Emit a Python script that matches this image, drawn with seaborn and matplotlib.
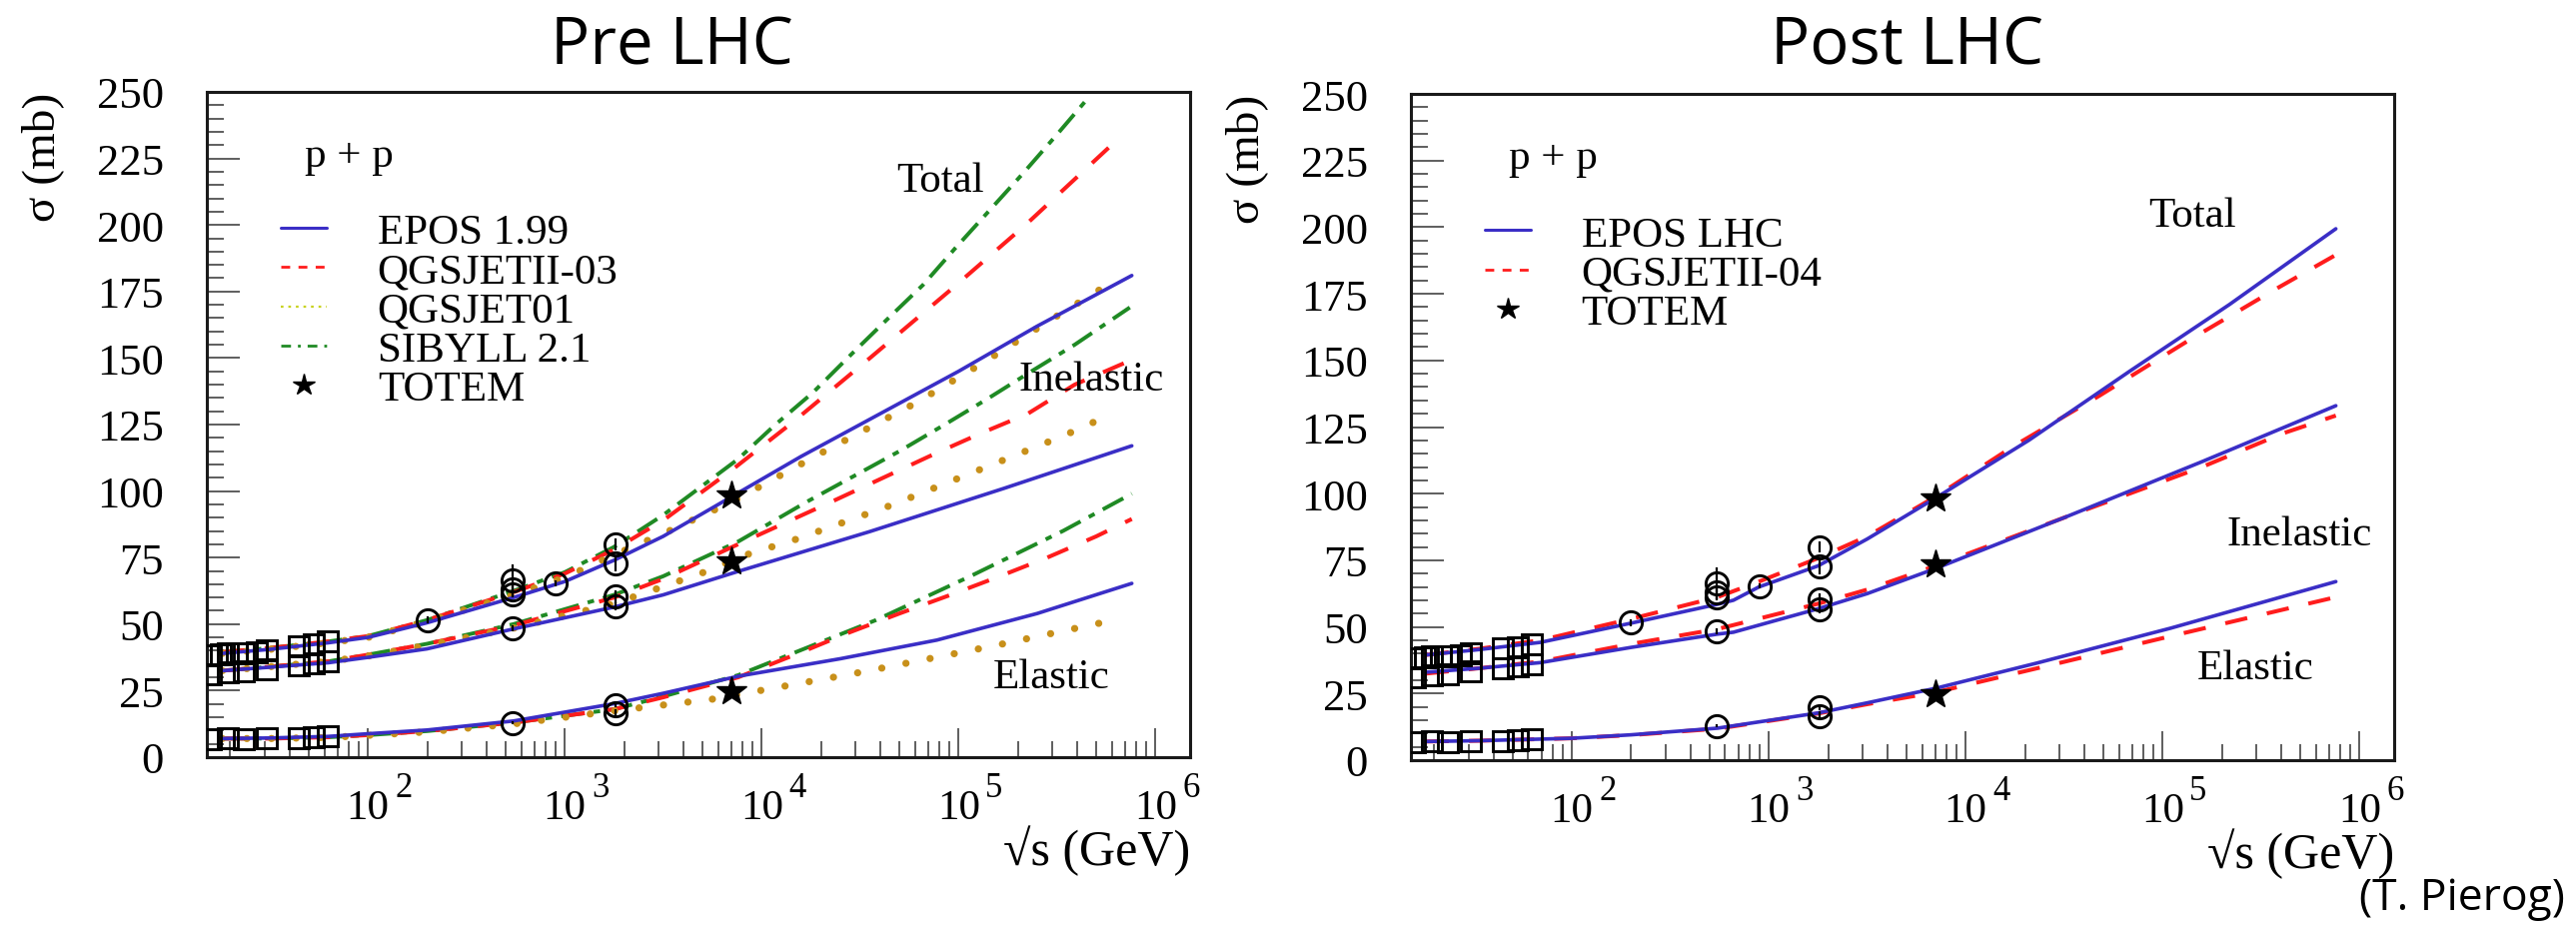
import numpy as np
import matplotlib
matplotlib.use("Agg")
import matplotlib.pyplot as plt
import matplotlib.transforms as mtransforms
from matplotlib.lines import Line2D
from matplotlib.ticker import LogLocator, MultipleLocator, NullFormatter, FixedLocator
import seaborn as sns

# ---------------------------------------------------------------- data
# model curves: log10(sqrt(s)/GeV) and cross section (mb)
# ---- Pre LHC
epos199_tot_lx = [1.26, 1.5, 1.8, 2.0, 2.3, 2.74, 3.0, 3.25, 3.5, 3.85, 4.2, 4.6, 5.0, 5.4, 5.88]
epos199_tot = [39.0, 40.5, 43.0, 45.0, 50.5, 60.0, 66.0, 74.0, 83.0, 98.0, 113.0, 129.0, 145.0, 162.0, 181.0]
qgsII03_tot_lx = [1.26, 1.5, 1.8, 2.0, 2.3, 2.74, 3.0, 3.25, 3.5, 3.85, 4.16, 4.55, 4.95, 5.34, 5.82]
qgsII03_tot = [39.5, 41.0, 43.5, 45.5, 51.5, 62.0, 69.0, 78.0, 89.0, 108.0, 126.0, 150.0, 175.0, 200.0, 233.0]
sib21_tot_lx = [1.26, 1.5, 1.8, 2.0, 2.3, 2.74, 3.0, 3.25, 3.5, 3.88, 4.07, 4.26, 4.45, 4.63, 4.82, 4.98, 5.16, 5.33, 5.5, 5.65]
sib21_tot = [39.5, 41.0, 43.5, 45.5, 51.5, 62.5, 69.5, 79.0, 91.0, 112.0, 125.0, 137.0, 151.0, 164.0, 177.5, 191.0, 205.7, 219.6, 234.0, 247.0]
qgs01_tot_lx = [1.26, 1.5, 1.8, 2.0, 2.3, 2.74, 3.0, 3.25, 3.5, 3.85, 4.32, 4.78, 5.12, 5.45, 5.79]
qgs01_tot = [39.0, 40.5, 43.0, 45.0, 51.0, 61.0, 67.5, 76.0, 84.0, 96.0, 115.0, 133.0, 148.0, 163.5, 179.0]

epos199_inel_lx = [1.26, 1.5, 1.8, 2.0, 2.3, 2.74, 3.25, 3.5, 3.88, 4.55, 5.23, 5.88]
epos199_inel = [32.5, 33.8, 35.5, 37.5, 40.7, 48.2, 56.4, 61.0, 69.8, 84.8, 101.0, 117.0]
qgsII03_inel_lx = [1.26, 1.5, 1.8, 2.0, 2.3, 2.74, 3.25, 3.5, 3.88, 4.37, 4.87, 5.11, 5.35, 5.59, 5.87]
qgsII03_inel = [32.5, 34.0, 36.0, 38.5, 42.6, 49.5, 60.0, 67.0, 80.0, 96.5, 113.7, 121.6, 129.0, 140.0, 149.0]
sib21_inel_lx = [1.26, 1.5, 1.8, 2.0, 2.3, 2.74, 3.25, 3.5, 3.88, 4.23, 4.7, 4.93, 5.15, 5.37, 5.59, 5.87]
sib21_inel = [32.5, 34.0, 36.0, 38.5, 42.6, 50.0, 61.0, 68.0, 81.0, 96.0, 115.0, 125.0, 134.8, 145.0, 155.0, 169.0]
qgs01_inel_lx = [1.26, 1.5, 1.8, 2.0, 2.3, 2.74, 3.25, 3.69, 3.92, 4.18, 4.67, 5.16, 5.54, 5.78]
qgs01_inel = [32.5, 34.0, 36.0, 38.0, 42.0, 48.5, 57.7, 69.0, 76.0, 82.0, 95.0, 109.6, 121.0, 129.0]

epos199_el_lx = [1.26, 1.5, 1.8, 2.0, 2.3, 2.74, 3.25, 3.5, 3.88, 4.4, 4.89, 5.4, 5.88]
epos199_el = [7.0, 7.2, 7.8, 8.8, 10.2, 13.6, 20.1, 24.0, 30.4, 37.0, 44.0, 54.0, 65.3]
qgsII03_el_lx = [1.26, 1.5, 1.8, 2.0, 2.3, 2.74, 3.25, 3.5, 3.88, 4.22, 4.45, 4.7, 4.96, 5.21, 5.45, 5.7, 5.88]
qgsII03_el = [7.0, 7.0, 7.5, 8.3, 9.8, 13.0, 18.0, 22.5, 30.0, 40.0, 47.0, 54.0, 61.0, 68.0, 75.0, 83.0, 89.5]
sib21_el_lx = [1.26, 1.5, 1.8, 2.0, 2.3, 2.74, 3.25, 3.5, 3.88, 4.09, 4.58, 5.06, 5.53, 5.88]
sib21_el = [7.0, 7.0, 7.5, 8.3, 9.8, 13.0, 18.0, 22.8, 30.8, 37.0, 51.5, 68.0, 85.0, 99.0]
qgs01_el_lx = [1.26, 1.5, 1.8, 2.0, 2.3, 2.74, 3.25, 3.75, 3.99, 4.51, 5.17, 5.82]
qgs01_el = [7.0, 7.0, 7.4, 8.2, 9.5, 12.5, 17.4, 21.8, 25.0, 32.0, 41.7, 52.0]

# ---- Post LHC
eposlhc_tot_lx = [1.26, 1.53, 1.84, 2.3, 2.74, 2.82, 2.95, 3.25, 3.5, 3.85, 4.32, 4.83, 5.34, 5.88]
eposlhc_tot = [39.5, 41.5, 44.2, 51.4, 58.5, 60.0, 65.0, 72.9, 83.0, 98.5, 120.0, 145.8, 171.0, 199.4]
qgsII04_tot_lx = [1.26, 1.53, 1.84, 2.3, 2.74, 2.95, 3.25, 3.5, 3.85, 4.24, 4.68, 5.13, 5.58, 5.88]
qgsII04_tot = [39.5, 41.8, 45.0, 53.0, 61.2, 67.0, 75.8, 84.0, 99.0, 117.7, 136.8, 157.4, 177.0, 189.6]
eposlhc_inel_lx = [1.26, 1.53, 1.84, 2.3, 2.74, 2.82, 3.25, 3.5, 3.85, 4.5, 5.2, 5.88]
eposlhc_inel = [33.0, 34.5, 36.6, 42.3, 47.3, 48.0, 56.8, 62.5, 72.0, 91.0, 112.0, 133.0]
qgsII04_inel_lx = [1.26, 1.53, 1.84, 2.3, 2.74, 3.25, 3.5, 3.85, 4.5, 5.2, 5.61, 5.88]
qgsII04_inel = [32.5, 34.5, 37.0, 43.6, 49.2, 58.7, 64.0, 73.0, 91.0, 110.0, 122.6, 129.3]
eposlhc_el_lx = [1.26, 1.53, 2.0, 2.3, 2.74, 3.25, 3.5, 3.85, 4.36, 5.04, 5.88]
eposlhc_el = [7.0, 7.3, 8.2, 9.5, 12.0, 17.7, 21.5, 27.0, 36.4, 49.5, 67.0]
qgsII04_el_lx = [1.26, 1.53, 2.0, 2.3, 2.74, 3.25, 3.5, 3.85, 4.45, 5.04, 5.87]
qgsII04_el = [7.0, 7.3, 8.2, 9.4, 11.8, 17.5, 21.0, 25.5, 36.0, 46.5, 61.0]

# ---- measurements (sqrt(s) in GeV, sigma in mb)
sq_tot_energy = [16.0, 18.0, 19.4, 21.7, 23.5, 27.4, 30.6, 44.7, 52.8, 62.5]
sq_tot = [38.4, 38.6, 38.9, 39.0, 38.9, 39.4, 40.1, 41.8, 42.4, 43.6]
sq_inel_energy = [16.0, 19.4, 23.5, 30.6, 44.7, 52.8, 62.5]
sq_inel = [31.2, 32.0, 32.2, 33.2, 34.6, 35.1, 36.0]
sq_el = [6.9, 7.0, 6.8, 7.0, 7.2, 7.4, 7.7]

circ_tot_energy = [200, 546, 546, 546, 900, 1800, 1800]
circ_tot = [51.6, 61.0, 63.0, 66.5, 65.3, 72.8, 80.0]
circ_tot_err = [1.3, 1.0, 1.5, 6.0, 1.0, 3.1, 2.2]
circ_inel_energy = [546, 1800, 1800]
circ_inel = [48.4, 60.3, 56.6]
circ_inel_err = [1.0, 2.4, 1.5]
circ_el_energy = [546, 1800, 1800]
circ_el = [12.9, 19.7, 16.6]
circ_el_err = [0.5, 0.9, 1.6]

totem_energy = [7000, 7000, 7000]
totem = [98.3, 73.5, 24.8]

decades = [2, 3, 4, 5, 6]
y_ticks = [0, 25, 50, 75, 100, 125, 150, 175, 200, 225, 250]

# ---------------------------------------------------------------- style
sns.set_theme(style="white", rc={"text.color": "black", "axes.labelcolor": "black",
                                 "xtick.color": "black", "ytick.color": "black"})
plt.rcParams["font.family"] = ["Liberation Serif", "DejaVu Serif"]

C_BLUE = "#3a2ec6"
C_RED = "#ff1c1c"
C_GREEN = "#1f8a24"
C_GOLD = "#c8901a"

STY = {
    "epos": dict(color=C_BLUE, linewidth=2.6, linestyle="-"),
    "qgsII": dict(color=C_RED, linewidth=2.9, linestyle=(0, (5.6, 5.0))),
    "sib": dict(color=C_GREEN, linewidth=2.8, linestyle=(0, (6.0, 2.4, 1.7, 2.4))),
    "qgs01": dict(color=C_GOLD, linewidth=5.2, linestyle=(0, (0.01, 3.4)),
                  dash_capstyle="round"),
}


def curve(ax, lx, vals, key):
    sns.lineplot(x=10.0 ** np.asarray(lx), y=np.asarray(vals), ax=ax,
                 sort=False, estimator=None, legend=False, **STY[key])


def data_points(ax):
    mk = dict(ls="none", marker="s", ms=15, mfc="none", mec="black", mew=2.1, zorder=5)
    ax.plot(sq_tot_energy, sq_tot, **mk)
    ax.plot(sq_inel_energy, sq_inel, **mk)
    ax.plot(sq_inel_energy, sq_el, **mk)
    for e, v, er in ((circ_tot_energy, circ_tot, circ_tot_err),
                     (circ_inel_energy, circ_inel, circ_inel_err),
                     (circ_el_energy, circ_el, circ_el_err)):
        ax.errorbar(e, v, yerr=er, fmt="o", ms=16, mfc="none", mec="black",
                    mew=2.1, ecolor="black", elinewidth=1.6, capsize=0, zorder=5)
    ax.plot(totem_energy, totem, ls="none", marker="*", ms=22, color="black",
            zorder=6)


def frame(ax):
    ax.set_xscale("log")
    ax.set_ylim(0, 250)
    ax.yaxis.set_major_locator(FixedLocator(y_ticks))
    ax.yaxis.set_minor_locator(MultipleLocator(5))
    ax.xaxis.set_major_locator(FixedLocator([10.0 ** k for k in range(1, 8)]))
    ax.xaxis.set_minor_locator(LogLocator(base=10, subs=np.arange(2, 10), numticks=30))
    ax.xaxis.set_major_formatter(NullFormatter())
    ax.xaxis.set_minor_formatter(NullFormatter())
    ax.set_xlim(15.2, 1.5e6)
    ax.tick_params(axis="y", which="major", direction="in", length=23.5, width=1.1,
                   color="#333333", labelsize=32, pad=31, left=True, right=False)
    ax.tick_params(axis="y", which="minor", direction="in", length=12, width=1.1,
                   color="#333333", left=True, right=False)
    ax.tick_params(axis="x", which="major", direction="in", length=21, width=1.1,
                   color="#333333", bottom=True, top=False)
    ax.tick_params(axis="x", which="minor", direction="in", length=11.5, width=1.1,
                   color="#333333", bottom=True, top=False)
    for s in ax.spines.values():
        s.set_linewidth(2.2)
        s.set_color("#1a1a1a")
    ax.grid(False)
    trans = mtransforms.blended_transform_factory(ax.transData, ax.transAxes)
    for k in decades:
        ax.annotate("10", xy=(10.0 ** k, 0), xycoords=trans, xytext=(0, -23.0),
                    textcoords="offset points", ha="center", va="top", fontsize=31)
        ax.annotate(str(k), xy=(10.0 ** k, 0), xycoords=trans, xytext=(19.5, -10.0),
                    textcoords="offset points", ha="left", va="top", fontsize=25)
    ax.text(-0.167, 1.0, "σ (mb)", rotation=90, ha="center", va="top",
            transform=ax.transAxes, fontsize=34)
    ax.text(1.0, -0.101, "√s (GeV)", ha="right", va="top",
            transform=ax.transAxes, fontsize=36)
    ax.text(0.10, 0.905, "p + p", ha="left", va="center", transform=ax.transAxes,
            fontsize=31)


def legend(ax, entries):
    handles = []
    labels = []
    for key, lab in entries:
        if key == "epos":
            h = Line2D([], [], color=C_BLUE, lw=2.2)
        elif key == "qgsII":
            h = Line2D([], [], color=C_RED, lw=2.0, ls=(0, (3.2, 3.0)))
        elif key == "qgs01":
            h = Line2D([], [], color="#c8d21e", lw=1.6, ls=(0, (1.2, 2.2)))
        elif key == "sib":
            h = Line2D([], [], color=C_GREEN, lw=2.0, ls=(0, (3.5, 2.5, 1.0, 2.5)))
        else:
            h = Line2D([], [], color="black", ls="none", marker="*", ms=16)
        handles.append(h)
        labels.append(lab)
    ax.legend(handles, labels, loc="upper left", bbox_to_anchor=(0.075, 0.818),
              borderaxespad=0, borderpad=0, frameon=False, fontsize=31,
              handlelength=1.07, handletextpad=1.18, labelspacing=0.0)


fig = plt.figure(figsize=(25.78, 9.29), dpi=100)
ax1 = fig.add_axes([0.0803, 0.183, 0.3817, 0.7169])
ax2 = fig.add_axes([0.5477, 0.1798, 0.3817, 0.7179])

# ---- Pre LHC panel
curve(ax1, sib21_tot_lx, sib21_tot, "sib")
curve(ax1, qgsII03_tot_lx, qgsII03_tot, "qgsII")
curve(ax1, qgs01_tot_lx, qgs01_tot, "qgs01")
curve(ax1, epos199_tot_lx, epos199_tot, "epos")
curve(ax1, sib21_inel_lx, sib21_inel, "sib")
curve(ax1, qgsII03_inel_lx, qgsII03_inel, "qgsII")
curve(ax1, qgs01_inel_lx, qgs01_inel, "qgs01")
curve(ax1, epos199_inel_lx, epos199_inel, "epos")
curve(ax1, sib21_el_lx, sib21_el, "sib")
curve(ax1, qgsII03_el_lx, qgsII03_el, "qgsII")
curve(ax1, qgs01_el_lx, qgs01_el, "qgs01")
curve(ax1, epos199_el_lx, epos199_el, "epos")
data_points(ax1)
frame(ax1)
legend(ax1, [("epos", "EPOS 1.99"), ("qgsII", "QGSJETII-03"), ("qgs01", "QGSJET01"),
             ("sib", "SIBYLL 2.1"), ("totem", "TOTEM")])
ax1.text(0.701, 0.866, "Total", ha="left", va="center", transform=ax1.transAxes, fontsize=31)
ax1.text(0.826, 0.568, "Inelastic", ha="left", va="center", transform=ax1.transAxes, fontsize=31)
ax1.text(0.800, 0.12, "Elastic", ha="left", va="center", transform=ax1.transAxes, fontsize=31)

# ---- Post LHC panel
curve(ax2, qgsII04_tot_lx, qgsII04_tot, "qgsII")
curve(ax2, eposlhc_tot_lx, eposlhc_tot, "epos")
curve(ax2, qgsII04_inel_lx, qgsII04_inel, "qgsII")
curve(ax2, eposlhc_inel_lx, eposlhc_inel, "epos")
curve(ax2, qgsII04_el_lx, qgsII04_el, "qgsII")
curve(ax2, eposlhc_el_lx, eposlhc_el, "epos")
data_points(ax2)
frame(ax2)
legend(ax2, [("epos", "EPOS LHC"), ("qgsII", "QGSJETII-04"), ("totem", "TOTEM")])
ax2.text(0.75, 0.817, "Total", ha="left", va="center", transform=ax2.transAxes, fontsize=31)
ax2.text(0.830, 0.339, "Inelastic", ha="left", va="center", transform=ax2.transAxes, fontsize=31)
ax2.text(0.800, 0.138, "Elastic", ha="left", va="center", transform=ax2.transAxes, fontsize=31)

fig.text(0.261, 0.931, "Pre LHC", family="Open Sans", fontsize=47, ha="center", va="baseline")
fig.text(0.7405, 0.931, "Post LHC", family="Open Sans", fontsize=47, ha="center", va="baseline")
fig.text(0.9957, 0.019, "(T. Pierog)", family="Open Sans", fontsize=32, ha="right", va="baseline")

fig.savefig("out.png", dpi=100)
